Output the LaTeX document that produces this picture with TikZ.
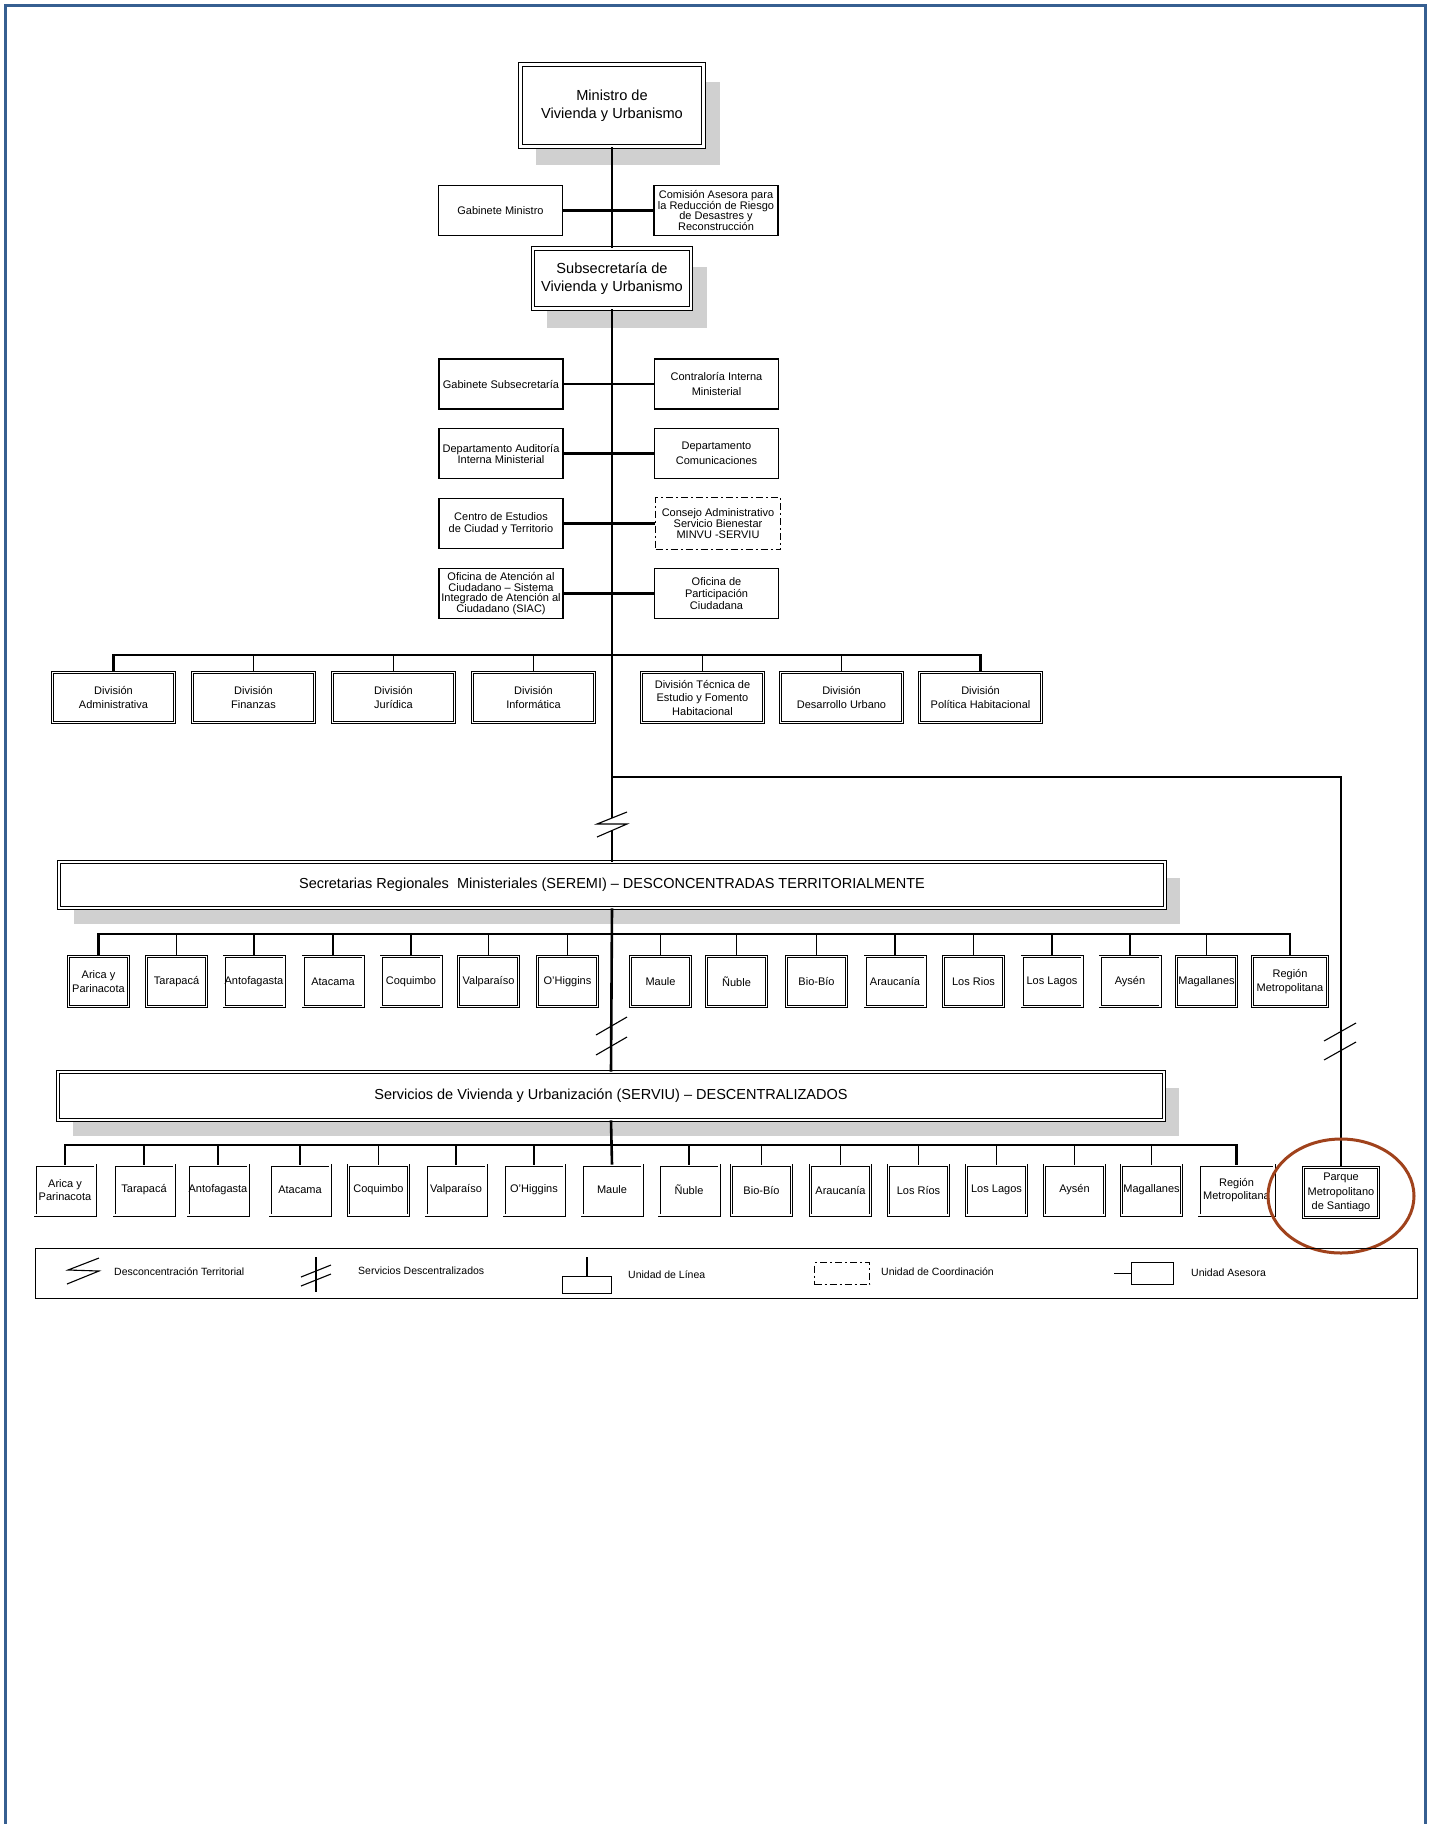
\documentclass[tikz,border=0pt]{standalone}
\usepackage{fontspec}
\setmainfont{Liberation Sans}
\newcommand\fsz[2]{\fontsize{#1pt}{#2pt}\selectfont}
\definecolor{shadowgray}{RGB}{208,208,208}
\definecolor{frameblue}{RGB}{54,95,145}
\definecolor{ringbrown}{RGB}{160,66,28}
\pgfdeclarelayer{bg}
\pgfsetlayers{bg,main}
\begin{document}
\begin{tikzpicture}[x=1pt,y=-1pt,
  every node/.style={inner sep=0pt, align=center, font=\fsz{11}{13.5}},
  dbox/.style={draw=black, double=white, line width=0.8pt, double distance=1.4pt, fill=white},
  bigbox/.style={draw=black, double=white, line width=1.1pt, double distance=2.6pt, fill=white, font=\fsz{14.6}{18}},
  titlebox/.style={draw=black, double=white, line width=0.9pt, double distance=1.6pt, fill=white, font=\fsz{14.5}{17}},
  sbox/.style={draw=black, line width=1.1pt, fill=white, minimum width=124, minimum height=50},
  cbox/.style={draw=black, line width=1.1pt, fill=white, dash pattern=on 7pt off 3pt on 2pt off 3pt},
  divbox/.style={dbox, minimum width=122, minimum height=50},
  rbox/.style={dbox, minimum width=60, minimum height=50},
  trunk/.style={line width=2.6pt},
  branch/.style={line width=1.8pt},
  thn/.style={line width=1.1pt},
  legtext/.style={anchor=west, font=\fsz{10.5}{12}}
]
\useasboundingbox (0,0) rectangle (1428,1824);
% page frame
\draw[frameblue, line width=3.5pt] (5.5,1840) -- (5.5,5.5) -- (1425.5,5.5) -- (1425.5,1840);

% top level
\node[bigbox, minimum width=183, minimum height=82] (min) at (612,105.5) {Ministro de\\Vivienda y Urbanismo};
\node[sbox] (gm) at (500.5,210.5) {Gabinete Ministro};
\node[sbox, font=\fsz{11}{10.5}] (cm) at (716,210.5) {Comisión Asesora para\\la Reducción de Riesgo\\de Desastres y\\Reconstrucción};
\node[bigbox, minimum width=158, minimum height=60] (sub) at (612,278.5) {Subsecretaría de\\Vivienda y Urbanismo};

\node[sbox] (gs) at (501,384) {Gabinete Subsecretaría};
\node[sbox, font=\fsz{11}{15}] (ci) at (716.5,384) {Contraloría Interna\\Ministerial};
\node[sbox, font=\fsz{11}{11}] (da) at (501,453.5) {Departamento Auditoría\\Interna Ministerial};
\node[sbox, font=\fsz{11}{15}] (dc) at (716.5,453.5) {Departamento\\Comunicaciones};
\node[sbox, font=\fsz{11}{12}] (ce) at (501,523.5) {Centro de Estudios\\de Ciudad y Territorio};
\node[cbox, minimum width=125, minimum height=52, font=\fsz{11}{10.8}] (cs) at (718,523.5) {Consejo Administrativo\\Servicio Bienestar\\MINVU -SERVIU};
\node[sbox, font=\fsz{11}{10.5}] (oa) at (501,593.5) {Oficina de Atención al\\Ciudadano – Sistema\\Integrado de Atención al\\Ciudadano (SIAC)};
\node[sbox, font=\fsz{11}{11.7}] (op) at (716.5,593.5) {Oficina de\\Participación\\Ciudadana};

% divisions
\node[divbox] (d1) at (113.5,697.5) {División\\Administrativa};
\node[divbox] (d2) at (253.5,697.5) {División\\Finanzas};
\node[divbox] (d3) at (393.5,697.5) {División\\Jurídica};
\node[divbox] (d4) at (533.5,697.5) {División\\Informática};
\node[divbox] (d5) at (702.5,697.5) {División Técnica de\\Estudio y Fomento\\Habitacional};
\node[divbox] (d6) at (841.5,697.5) {División\\Desarrollo Urbano};
\node[divbox] (d7) at (980.5,697.5) {División\\Política Habitacional};

% SEREMI
\node[titlebox, minimum width=1106, minimum height=46] (seremi) at (612,885) {Secretarias Regionales\ \ Ministeriales (SEREMI) – DESCONCENTRADAS TERRITORIALMENTE};
\foreach \i/\xx/\lbl in {1/98.5/{Arica y\\Parinacota},2/176.5/{Tarapacá},3/254/{Antofagasta},4/333/{Atacama},5/411/{Coquimbo},6/488.5/{Valparaíso},7/567.5/{O'Higgins},8/660.5/{Maule},9/736.5/{Ñuble},10/816.5/{Bio-Bío},11/895/{Araucanía},12/973.5/{Los Rios},13/1052/{Los Lagos},14/1130/{Aysén},15/1206.5/{Magallanes}}
  \node[rbox] (r\i) at (\xx,981.5) {\lbl};
\node[rbox, minimum width=75] (r16) at (1290,981.5) {Región\\Metropolitana};

% SERVIU
\node[titlebox, minimum width=1106, minimum height=48] (serviu) at (611,1096) {Servicios de Vivienda y Urbanización (SERVIU) – DESCENTRALIZADOS};
\foreach \i/\xx/\lbl in {1/65/{Arica y\\Parinacota},2/144/{Tarapacá},3/218/{Antofagasta},4/300/{Atacama},5/378.5/{Coquimbo},6/456/{Valparaíso},7/534/{O'Higgins},8/612/{Maule},9/689/{Ñuble},10/761.5/{Bio-Bío},11/840.5/{Araucanía},12/918.5/{Los Ríos},13/996.5/{Los Lagos},14/1074.5/{Aysén},15/1151.5/{Magallanes}}
  \node[rbox] (v\i) at (\xx,1190) {\lbl};
\node[rbox, minimum width=75] (v16) at (1236.5,1190) {Región\\Metropolitana};
\node[rbox, minimum width=75, font=\fsz{11}{14.5}] (pq) at (1341,1192.5) {Parque\\Metropolitano\\de Santiago};

% shadows
\begin{pgfonlayer}{bg}
  \fill[shadowgray] ([shift={(16,18)}]min.north west) rectangle ([shift={(16,18)}]min.south east);
  \fill[shadowgray] ([shift={(15,19)}]sub.north west) rectangle ([shift={(15,19)}]sub.south east);
  \fill[shadowgray] ([shift={(15,16)}]seremi.north west) rectangle ([shift={(15,16)}]seremi.south east);
  \fill[shadowgray] ([shift={(15,16)}]serviu.north west) rectangle ([shift={(15,16)}]serviu.south east);
\end{pgfonlayer}

% trunk and advisors
\draw[trunk] (min.south) -- (sub.north);
\draw[trunk] (gm.east) -- (cm.west);
\draw[trunk] (gs.east) -- (ci.west);
\draw[trunk] (da.east) -- (dc.west);
\draw[trunk] (ce.east) -- (cs.west);
\draw[trunk] (oa.east) -- (op.west);

\coordinate (dbar) at (612,655);
\coordinate (z1) at (612,818);
\coordinate (z2) at (612,830.5);
\coordinate (rj) at (612,777);
\draw[trunk] (sub.south) -- (z1);
\draw[trunk] (z2) -- (seremi.north);
\draw[thn] (627,812) -- (597,824) -- (627,824) -- (597,837);

% division bar
\draw[trunk] (d1.north) |- (dbar) -| (d7.north);
\foreach \i in {2,...,6} \draw[thn] (d\i.north) -- (d\i.north |- dbar);

% right branch
\draw[branch] (rj) -| (pq.north);
\draw[thn] (1356,1023) -- (1324,1041);
\draw[thn] (1356,1042) -- (1324,1060);

% SEREMI bar
\coordinate (sbar) at (612,934);
\draw[trunk] (r1.north) |- (sbar) -| (r16.north);
\foreach \i in {2,...,15} \draw[thn] (r\i.north) -- (r\i.north |- sbar);
\draw[trunk] (seremi.south) -- (serviu.north);
\draw[thn] (627,1017) -- (596,1035);
\draw[thn] (627,1037) -- (596,1055);

% SERVIU bar
\coordinate (vbar) at (612,1145);
\draw[trunk] (v1.north) |- (vbar) -| (v16.north);
\foreach \i in {2,...,7,9,10,11,12,13,14,15} \draw[thn] (v\i.north) -- (v\i.north |- vbar);
\draw[trunk] (serviu.south) -- (v8.north);

% highlight ring
\draw[ringbrown, line width=3pt] (1341,1196) ellipse [x radius=73pt, y radius=57pt];

% legend
\node[draw=black, line width=1.1pt, minimum width=1382, minimum height=50] (leg) at (726.5,1273.5) {};
\draw[thn] (99,1258) -- (68,1270) -- (99,1271) -- (67,1284);
\node[legtext] (lt1) at (114,1272) {Desconcentración Territorial};
\draw[thn] (316,1257) -- (316,1292);
\draw[thn] (331,1265) -- (301,1277);
\draw[thn] (331,1274) -- (301,1286);
\node[legtext] (lt2) at (358,1271) {Servicios Descentralizados};
\node[draw=black, line width=1.1pt, minimum width=49, minimum height=17] (lgl) at (587,1285) {};
\coordinate (lglt) at (587,1257);
\draw[thn] (lgl.north) -- (lglt);
\node[legtext] (lt3) at (628,1275) {Unidad de Línea};
\node[cbox, minimum width=55, minimum height=22] (lgc) at (842,1273.5) {};
\node[legtext] (lt4) at (881,1272) {Unidad de Coordinación};
\node[draw=black, line width=1.1pt, minimum width=42, minimum height=22] (lga) at (1152.5,1273.5) {};
\coordinate (lgat) at (1114,1273.5);
\draw[thn] (lgat) -- (lga.west);
\node[legtext] (lt5) at (1191,1273) {Unidad Asesora};
\end{tikzpicture}
\end{document}
